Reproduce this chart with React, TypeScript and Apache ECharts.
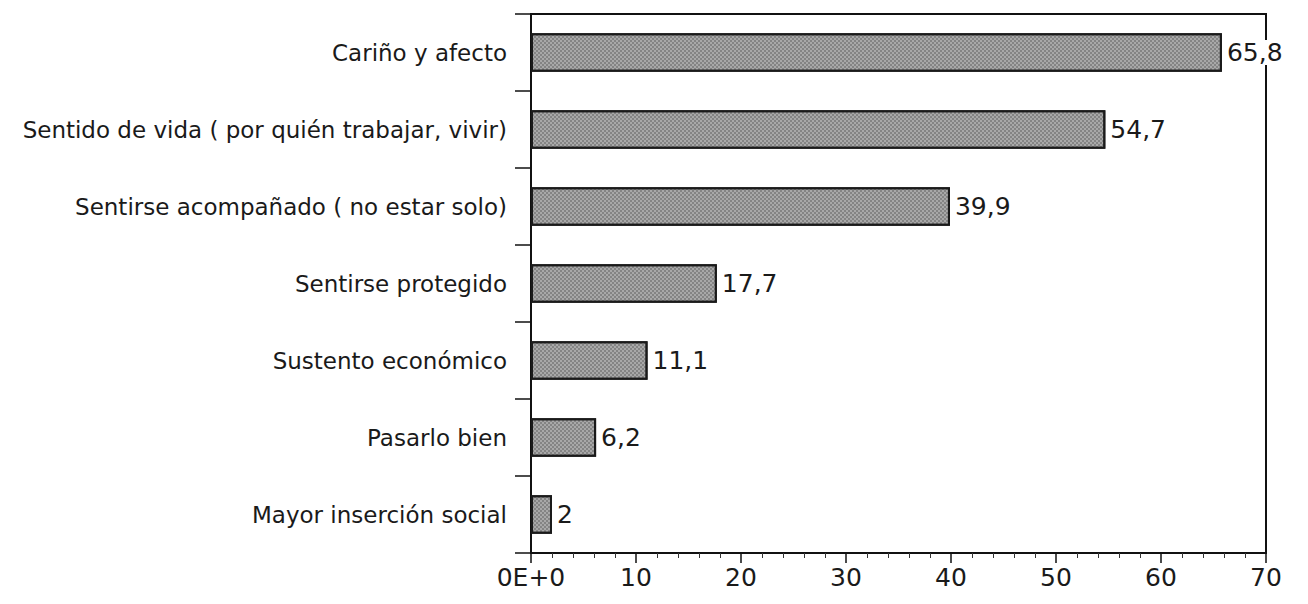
import React, { useEffect, useRef } from "react";
import * as echarts from "echarts";

const categories = [
  "Cariño y afecto",
  "Sentido de vida ( por quién trabajar, vivir)",
  "Sentirse acompañado ( no estar solo)",
  "Sentirse protegido",
  "Sustento económico",
  "Pasarlo bien",
  "Mayor inserción social",
];
const values = [65.8, 54.7, 39.9, 17.7, 11.1, 6.2, 2];
const xTickLabels: Record<number, string> = { 0: "0E+0", 10: "10", 20: "20", 30: "30", 40: "40", 50: "50", 60: "60", 70: "70" };

const FONT = "DejaVu Sans, Liberation Sans, Arial, sans-serif";

export default function App() {
  const ref = useRef<HTMLDivElement>(null);
  useEffect(() => {
    if (!ref.current) return;
    const chart = echarts.init(ref.current, null, { renderer: "svg" });
    chart.setOption({
      animation: false,
      backgroundColor: "#ffffff",
      aria: { enabled: false, decal: { show: true } },
      grid: {
        left: 523,
        right: 34,
        top: 6,
        bottom: 43,
        show: true,
        borderColor: "#111",
        borderWidth: 2,
        containLabel: false,
      },
      xAxis: {
        type: "value",
        min: 0,
        max: 70,
        interval: 10,
        axisLine: { show: true, lineStyle: { color: "#111", width: 2 } },
        axisTick: { show: true, length: 10, lineStyle: { color: "#111", width: 1.5 } },
        minorTick: { show: true, splitNumber: 5, length: 5, lineStyle: { color: "#333", width: 1 } },
        splitLine: { show: false },
        axisLabel: {
          color: "#1a1a1a",
          fontSize: 25,
          fontFamily: FONT,
          margin: 12,
          formatter: (v: number) => xTickLabels[v] ?? String(v),
        },
      },
      yAxis: {
        type: "category",
        inverse: true,
        data: categories,
        axisLine: { show: true, lineStyle: { color: "#111", width: 2 } },
        axisTick: { show: true, length: 16, lineStyle: { color: "#111", width: 1.5 } },
        axisLabel: {
          color: "#1a1a1a",
          fontSize: 23,
          fontFamily: FONT,
          margin: 24,
        },
      },
      series: [
        {
          type: "bar",
          data: values,
          barCategoryGap: "50%",
          itemStyle: {
            color: "#a8a8a8",
            borderColor: "#1a1a1a",
            borderWidth: 2,
            decal: {
              symbol: "rect",
              symbolSize: 1,
              color: "rgba(40,40,40,0.28)",
              dashArrayX: [[2, 2], [0, 2, 2, 0]],
              dashArrayY: [2, 0],
            },
          },
          label: {
            show: true,
            position: "right",
            distance: 5,
            color: "#1a1a1a",
            fontSize: 25,
            fontFamily: FONT,
            backgroundColor: "#ffffff",
            formatter: (p: any) => String(p.value).replace(".", ","),
          },
        },
      ],
    });
    return () => chart.dispose();
  }, []);
  return <div ref={ref} style={{ width: 1292, height: 588 }} />;
}
